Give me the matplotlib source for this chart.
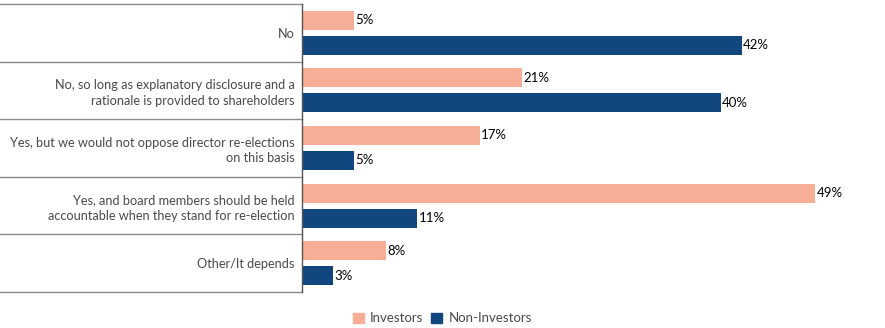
import numpy as np
import matplotlib.pyplot as plt
from matplotlib.transforms import blended_transform_factory
from matplotlib.patches import Patch

plt.rcParams['font.family'] = ['Lato', 'DejaVu Sans']

categories = ["No",
              "No, so long as explanatory disclosure and a\nrationale is provided to shareholders",
              "Yes, but we would not oppose director re-elections\non this basis",
              "Yes, and board members should be held\naccountable when they stand for re-election",
              "Other/It depends"]
investors = [5, 21, 17, 49, 8]
non_investors = [42, 40, 5, 11, 3]

pink = "#F7AE96"
navy = "#12467E"

fig = plt.figure(figsize=(8.85, 3.28), dpi=100)
ax = fig.add_axes([0.341, 0.11, 0.659, 0.878])

y = np.arange(len(categories))
h = 0.33
off = 0.217
b1 = ax.barh(y - off, investors, height=h, color=pink)
b2 = ax.barh(y + off, non_investors, height=h, color=navy)

for bars, vals in [(b1, investors), (b2, non_investors)]:
    for bar, v in zip(bars, vals):
        ax.text(bar.get_width() + 0.15, bar.get_y() + bar.get_height() / 2,
                f"{v}%", va="center", ha="left", fontsize=9.5, color="black")

ax.set_ylim(len(categories) - 0.5, -0.5)
ax.set_xlim(0, 55.7)
ax.set_yticks(y)
ax.set_yticklabels(categories, fontsize=9.2, color="#4a4a4a", linespacing=1.35)
ax.tick_params(axis="y", length=0, pad=5)
ax.set_xticks([])
for s in ["top", "right", "bottom"]:
    ax.spines[s].set_visible(False)
ax.spines["left"].set_color("#555555")
ax.spines["left"].set_linewidth(1)

# separators to the left of the axis
tr = blended_transform_factory(fig.transFigure, ax.transData)
for yy in np.arange(-0.5, len(categories), 1.0):
    ax.plot([0, 0.341], [yy, yy], transform=tr, color="#8a8a8a", lw=1, clip_on=False)

handles = [Patch(color=pink, label="Investors"), Patch(color=navy, label="Non-Investors")]
fig.legend(handles=handles, loc="center", bbox_to_anchor=(0.5, 0.03), ncol=2,
           frameon=False, fontsize=9.5, handlelength=0.8, handleheight=0.8,
           handletextpad=0.5, columnspacing=0.6, labelcolor="#4a4a4a")

fig.savefig("out.png", dpi=100)
